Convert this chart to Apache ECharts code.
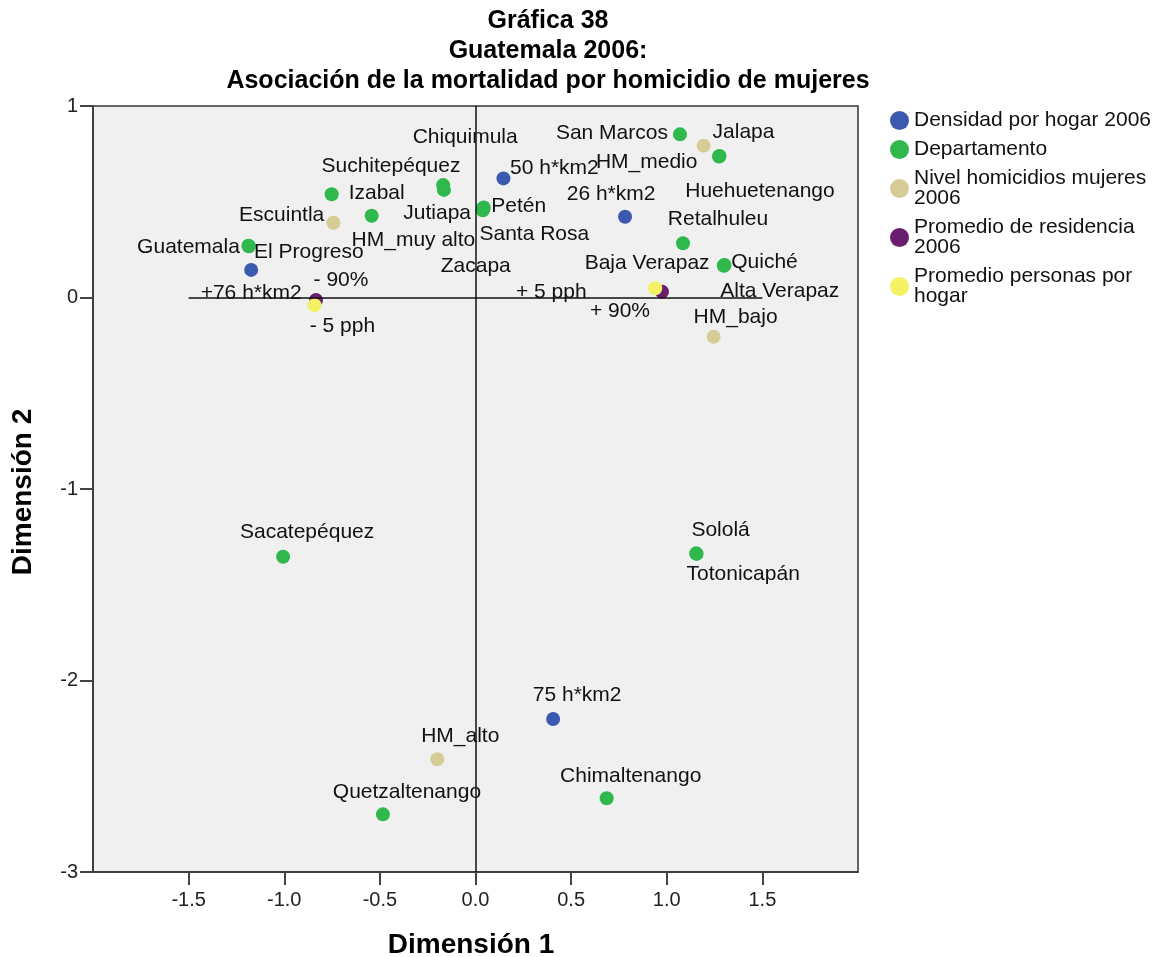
<!DOCTYPE html>
<html>
<head>
<meta charset="utf-8">
<script src="https://cdn.jsdelivr.net/npm/echarts@6/dist/echarts.min.js"></script>
<style>
html,body{margin:0;padding:0;background:#fff;}
#chart{width:1164px;height:957px;}
</style>
</head>
<body>
<div id="chart"></div>
<script>
// ---- Data ----
const densidadNames = ['+76 h*km2', '50 h*km2', '26 h*km2', '75 h*km2'];
const densidadX = [-1.173, 0.146, 0.782, 0.406];
const densidadY = [0.144, 0.622, 0.422, -2.201];

const deptNames = ['Guatemala', 'El Progreso', 'Izabal', 'Escuintla', 'Suchitepéquez', 'Chiquimula',
  'Jutiapa', 'Petén', 'Santa Rosa', 'Zacapa', 'San Marcos', 'Jalapa', 'Huehuetenango', 'Retalhuleu',
  'Quiché', 'Baja Verapaz', 'Alta Verapaz', 'Sacatepéquez', 'Sololá', 'Totonicapán',
  'Quetzaltenango', 'Chimaltenango'];
const deptX = [-1.187, -1.185, -0.752, -0.543, -0.165, -0.169,
  0.040, 0.043, 0.041, 0.038, 1.069, 1.276, 1.273, 1.085,
  1.302, 1.300, 1.298, -1.006, 1.156, 1.154,
  -0.484, 0.686];
const deptY = [0.270, 0.268, 0.539, 0.427, 0.562, 0.587,
  0.466, 0.470, 0.462, 0.456, 0.852, 0.739, 0.736, 0.283,
  0.170, 0.168, 0.166, -1.354, -1.339, -1.336,
  -2.699, -2.615];

const nivelNames = ['HM_muy alto', 'HM_medio', 'HM_bajo', 'HM_alto'];
const nivelX = [-0.743, 1.193, 1.245, -0.200];
const nivelY = [0.390, 0.793, -0.205, -2.411];

const residNames = ['- 90%', '+ 90%'];
const residX = [-0.834, 0.975];
const residY = [-0.013, 0.030];

const personasNames = ['- 5 pph', '+ 5 pph'];
const personasX = [-0.842, 0.940];
const personasY = [-0.040, 0.048];

const seriesNames = ['Densidad por hogar 2006', 'Departamento', 'Nivel homicidios mujeres 2006',
  'Promedio de residencia 2006', 'Promedio personas por hogar'];
const legendText = {
  'Densidad por hogar 2006': 'Densidad por hogar 2006',
  'Departamento': 'Departamento',
  'Nivel homicidios mujeres 2006': 'Nivel homicidios mujeres\n2006',
  'Promedio de residencia 2006': 'Promedio de residencia\n2006',
  'Promedio personas por hogar': 'Promedio personas por\nhogar'
};

const xTicks = [-1.5, -1.0, -0.5, 0.0, 0.5, 1.0, 1.5];
const refLineX = 0;
const refLineY = 0;
const refLineYFrom = -1.5;
const refLineYTo = 1.5;

// ---- Label placement (pixel offsets of label centre from point centre) ----
const labelOffsets = {
  'Guatemala': [-60, 1], 'El Progreso': [60, 6], '+76 h*km2': [0, 23], 'Izabal': [45, -1],
  'HM_muy alto': [80, 17], 'Escuintla': [-90, -1], 'Chiquimula': [22, -48], 'Suchitepéquez': [-53, -24],
  'Jutiapa': [-46, 5], 'Petén': [35, -1], 'Santa Rosa': [51, 25], 'Zacapa': [-7, 56],
  '50 h*km2': [51, -10], '26 h*km2': [-14, -22], 'San Marcos': [-68, -1], 'HM_medio': [-57, 17],
  'Jalapa': [24, -24], 'Huehuetenango': [41, 35], 'Retalhuleu': [35, -24], 'Quiché': [40, -3],
  'Baja Verapaz': [-77, -2], 'Alta Verapaz': [56, 25], '+ 5 pph': [-104, 4], '+ 90%': [-42, 19],
  'HM_bajo': [22, -20], '- 90%': [25, -20], '- 5 pph': [28, 21], 'Sacatepéquez': [24, -25],
  'Sololá': [24, -24], 'Totonicapán': [47, 21], '75 h*km2': [24, -24], 'HM_alto': [23, -23],
  'Quetzaltenango': [24, -22], 'Chimaltenango': [24, -22]
};

const colors = ['#3b5aaf', '#2fb84b', '#d5cd95', '#6b1d6d', '#f5f164'];
const FONT = '"Liberation Sans", Arial, sans-serif';

function buildData(names, xs, ys) {
  return names.map((n, i) => ({ name: n, value: [xs[i], ys[i]] }));
}

function scatter(name, names, xs, ys, color, z) {
  return {
    name: name,
    type: 'scatter',
    data: buildData(names, xs, ys),
    symbol: 'circle',
    symbolSize: 14,
    z: z,
    itemStyle: { color: color, opacity: 1 },
    label: {
      show: true,
      position: 'inside',
      align: 'center',
      verticalAlign: 'middle',
      formatter: '{b}',
      color: '#111',
      fontFamily: FONT,
      fontSize: 21
    },
    labelLayout: function (p) {
      const off = labelOffsets[names[p.dataIndex]] || [0, 0];
      return { dx: off[0], dy: off[1], hideOverlap: false };
    },
    emphasis: { disabled: true }
  };
}

const chart = echarts.init(document.getElementById('chart'), null, { renderer: 'canvas' });

const option = {
  backgroundColor: '#ffffff',
  animation: false,
  color: colors,
  grid: {
    left: 93, top: 106, width: 765, height: 766,
    show: true, backgroundColor: '#f0f0f0', borderColor: '#333', borderWidth: 1.5
  },
  legend: {
    orient: 'vertical',
    left: 890, top: 110,
    itemGap: 8, itemWidth: 19, itemHeight: 19,
    icon: 'circle', padding: 0,
    data: seriesNames,
    formatter: n => legendText[n],
    textStyle: { fontFamily: FONT, fontSize: 21, lineHeight: 20, color: '#111' },
    selectedMode: false
  },
  xAxis: {
    type: 'value', min: -2, max: 2, interval: 0.5,
    splitLine: { show: false },
    axisLine: { show: true, onZero: false, lineStyle: { color: '#333', width: 1.5 } },
    axisTick: { show: true, length: 13, customValues: xTicks, lineStyle: { color: '#444', width: 2 } },
    axisLabel: {
      customValues: xTicks, margin: 18,
      formatter: v => v.toFixed(1),
      fontFamily: FONT, fontSize: 20, color: '#222'
    }
  },
  yAxis: {
    type: 'value', min: -3, max: 1, interval: 1,
    splitLine: { show: false },
    axisLine: { show: true, onZero: false, lineStyle: { color: '#333', width: 1.5 } },
    axisTick: { show: true, length: 13, lineStyle: { color: '#444', width: 2 } },
    axisLabel: { margin: 15, fontFamily: FONT, fontSize: 20, color: '#222' }
  },
  graphic: [
    {
      type: 'text', x: 548, y: 6, z: 10,
      style: {
        text: 'Gráfica 38\nGuatemala 2006:\nAsociación de la mortalidad por homicidio de mujeres',
        align: 'center', verticalAlign: 'top', lineHeight: 30,
        font: 'bold 25px ' + FONT, fill: '#000'
      }
    },
    {
      type: 'text', x: 471, y: 945, z: 10,
      style: { text: 'Dimensión 1', align: 'center', verticalAlign: 'middle', font: 'bold 28px ' + FONT, fill: '#000' }
    },
    {
      type: 'text', x: 23, y: 492, rotation: Math.PI / 2, z: 10,
      style: { text: 'Dimensión 2', align: 'center', verticalAlign: 'middle', font: 'bold 28px ' + FONT, fill: '#000' }
    }
  ],
  series: [
    {
      name: 'ref', type: 'scatter', data: [], z: 1, silent: true,
      markLine: {
        silent: true, symbol: 'none', animation: false,
        label: { show: false },
        lineStyle: { color: '#111', width: 1.5, type: 'solid' },
        data: [
          { xAxis: refLineX },
          [{ coord: [refLineYFrom, refLineY] }, { coord: [refLineYTo, refLineY] }]
        ]
      }
    },
    scatter(seriesNames[0], densidadNames, densidadX, densidadY, colors[0], 3),
    scatter(seriesNames[1], deptNames, deptX, deptY, colors[1], 3),
    scatter(seriesNames[2], nivelNames, nivelX, nivelY, colors[2], 3),
    scatter(seriesNames[3], residNames, residX, residY, colors[3], 3),
    scatter(seriesNames[4], personasNames, personasX, personasY, colors[4], 4)
  ]
};

chart.setOption(option);
</script>
</body>
</html>
